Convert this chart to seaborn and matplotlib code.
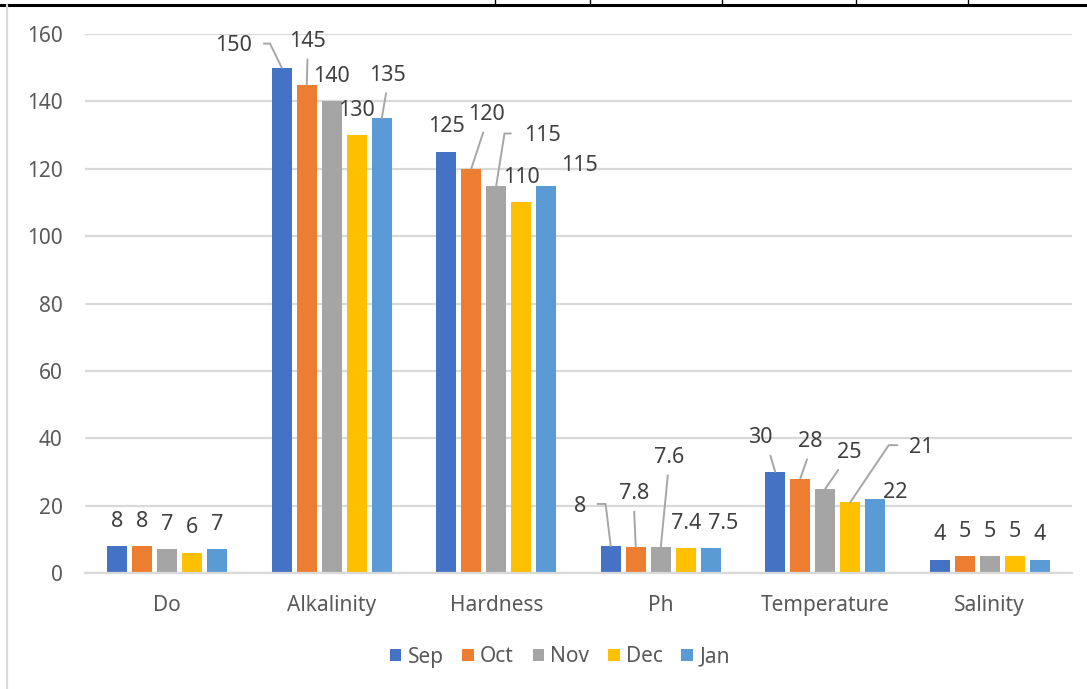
import matplotlib
matplotlib.use("Agg")
import matplotlib.pyplot as plt
from matplotlib.lines import Line2D
import pandas as pd
import seaborn as sns

# Water-quality parameters by month
params = ["Do", "Alkalinity", "Hardness", "Ph", "Temperature", "Salinity"]
months = ["Sep", "Oct", "Nov", "Dec", "Jan"]
sep_vals = [8, 150, 125, 8, 30, 4]
oct_vals = [8, 145, 120, 7.8, 28, 5]
nov_vals = [7, 140, 115, 7.6, 25, 5]
dec_vals = [6, 130, 110, 7.4, 21, 5]
jan_vals = [7, 135, 115, 7.5, 22, 4]
y_ticks = [0, 20, 40, 60, 80, 100, 120, 140, 160]

colors = ["#4472C4", "#ED7D31", "#A5A5A5", "#FFC000", "#5B9BD5"]

series = dict(zip(months, [sep_vals, oct_vals, nov_vals, dec_vals, jan_vals]))
df = pd.DataFrame(
    [(p, m, series[m][i]) for m in months for i, p in enumerate(params)],
    columns=["Parameter", "Month", "Value"],
)

sns.set_theme(style="white")
plt.rcParams["font.family"] = ["Noto Sans", "DejaVu Sans"]

fig = plt.figure(figsize=(10.87, 6.89), dpi=100)
ax = fig.add_axes([85 / 1087, 1 - 573 / 689, 987 / 1087, 539 / 689])

sns.barplot(
    data=df, x="Parameter", y="Value", hue="Month",
    order=params, hue_order=months, palette=colors,
    width=0.76, gap=0.2, saturation=1, ax=ax, errorbar=None,
    linewidth=0,
)

ax.set_ylim(0, 160)
ax.set_xlim(-0.5, len(params) - 0.5)
ax.set_yticks(y_ticks)
ax.set_xlabel("")
ax.set_ylabel("")
ax.grid(axis="y", color="#d9d9d9", lw=1.6)
ax.set_axisbelow(True)
for s in ["top", "right", "left"]:
    ax.spines[s].set_visible(False)
ax.spines["bottom"].set_color("#d9d9d9")
ax.spines["bottom"].set_linewidth(1.6)
ax.tick_params(axis="y", length=0, pad=16, labelsize=15, labelcolor="#595959")
ax.tick_params(axis="x", length=0, pad=16, labelsize=15, labelcolor="#595959")

# Data-label placement: (dx, dy) in pixels from the bar top, plus optional leader line
leader = "#a6a6a6"
label_layout = {
    ("Sep", "Alkalinity"): (-48, 22, ("angle", (1, 0.6), 116, 6)),
    ("Oct", "Alkalinity"): (1, 43, ("line", (0.5, 0.1), None, 3)),
    ("Jan", "Alkalinity"): (6, 43, ("line", (0.5, 0.1), None, 3)),
    ("Oct", "Hardness"): (15, 54, ("line", (0.5, 0.1), None, 3)),
    ("Nov", "Hardness"): (46, 50, ("angle", (0, 0.6), 81, 7)),
    ("Jan", "Hardness"): (33, 20, None),
    ("Sep", "Ph"): (-31, 40, ("angle", (1, 0.6), 97, 6)),
    ("Oct", "Ph"): (-2, 53, ("line", (0.5, 0.1), None, 3)),
    ("Nov", "Ph"): (8, 90, ("line", (0.5, 0.1), None, 3)),
    ("Jan", "Ph"): (12, 24, None),
    ("Sep", "Temperature"): (-15, 34, ("line", (0.8, 0.1), None, 3)),
    ("Oct", "Temperature"): (10, 37, ("line", (0.5, 0.1), None, 3)),
    ("Nov", "Temperature"): (24, 36, ("line", (0.3, 0.1), None, 3)),
    ("Dec", "Temperature"): (71, 55, ("angle", (0, 0.6), 56, 6)),
    ("Jan", "Temperature"): (20, 6, None),
}

for m, cont in zip(months, ax.containers):
    for p_name, bar in zip(params, cont):
        v = bar.get_height()
        x = bar.get_x() + bar.get_width() / 2
        dx, dy, ld = label_layout.get((m, p_name), (0, 25, None))
        kw = {}
        if ld is not None:
            kind, rel, angB, shr = ld
            cs = "arc3" if kind == "line" else f"angle,angleA=0,angleB={angB},rad=0"
            kw["arrowprops"] = dict(arrowstyle="-", color=leader, lw=1.4,
                                    shrinkA=shr, shrinkB=0, relpos=rel,
                                    connectionstyle=cs)
        ax.annotate(f"{v:g}", xy=(x, v), xytext=(dx, dy),
                    textcoords="offset pixels", ha="center", va="center",
                    fontsize=15.5, color="#404040", annotation_clip=False, **kw)

handles, labels = ax.get_legend_handles_labels()
ax.legend(handles, labels, loc="center", bbox_to_anchor=(0.515, 1 - 657 / 689),
          bbox_transform=fig.transFigure, ncol=5, frameon=False, fontsize=15,
          handlelength=0.55, handleheight=0.55, handletextpad=0.3,
          columnspacing=0.9, labelcolor="#595959")

# Surrounding cell borders
top_y = 1 - 5 / 689
fig.add_artist(Line2D([0, 1], [top_y, top_y], transform=fig.transFigure,
                      color="black", lw=2.2))
for xp in [495, 590, 722, 856, 968]:
    fig.add_artist(Line2D([xp / 1087, xp / 1087], [top_y, 1],
                          transform=fig.transFigure, color="black", lw=1))
fig.add_artist(Line2D([7 / 1087, 7 / 1087], [0, top_y],
                      transform=fig.transFigure, color="#d9d9d9", lw=1.6))

fig.savefig("out.png", dpi=100)
